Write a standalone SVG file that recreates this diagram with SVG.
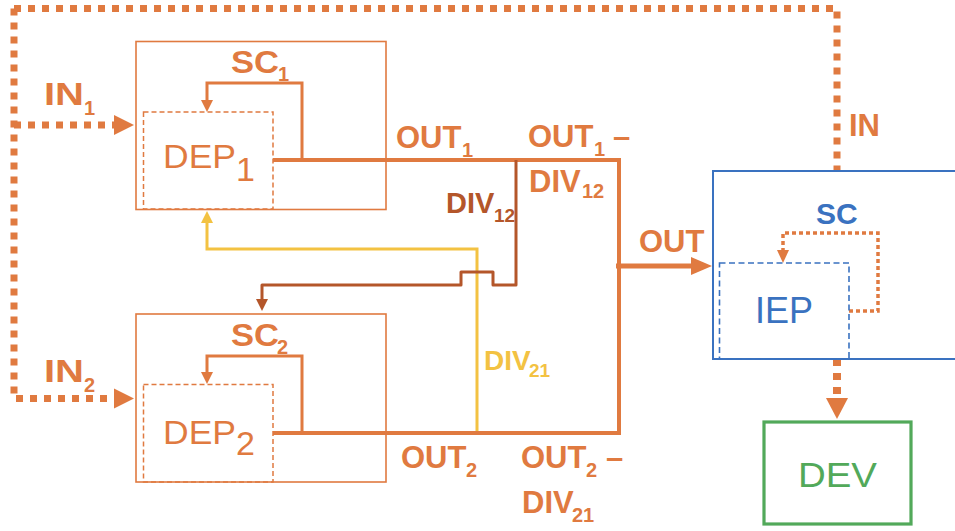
<svg xmlns="http://www.w3.org/2000/svg" width="955" height="531" viewBox="0 0 955 531">
<style>
text{font-family:"Liberation Sans",Arial,Helvetica,sans-serif}
.b{font-weight:bold;font-size:31px;fill:#E07A40}
.s{font-weight:bold;font-size:20px;fill:#E07A40}
.reg{font-size:34px;fill:#E07A40}
.box{fill:none;stroke:#E07A40;stroke-width:1.6}
.dbox{fill:none;stroke:#E07A40;stroke-width:1.5;stroke-dasharray:5 3}
.or{fill:none;stroke:#E07A40}
.dot{fill:none;stroke:#E07A40;stroke-width:7;stroke-dasharray:7 7}
.ah{fill:#E07A40}
</style>
<rect width="955" height="531" fill="#fff"/>
<g id="connectors">
  <path class="dot" d="M14,8.5 H837 V171"/>
  <path class="dot" d="M14,8.5 V398.5 H114"/>
  <path class="dot" d="M14,125 H114"/>
  <polygon class="ah" points="114,115 134,125 114,135"/>
  <polygon class="ah" points="114,388.5 134,398.5 114,408.5"/>
  <path class="dot" d="M837,359 V398" style="stroke-width:8"/>
  <polygon class="ah" points="826,398 848,398 837,419"/>
  <path class="or" stroke-width="3" d="M302,160 V83 H207 V101"/>
  <polygon class="ah" points="201,100 213,100 207,112"/>
  <path class="or" stroke-width="3" d="M302,433 V356 H207 V374"/>
  <polygon class="ah" points="201,372 213,372 207,384"/>
  <path fill="none" stroke="#F3C242" stroke-width="3" d="M477,433 V249 H207 V222"/>
  <polygon fill="#F3C242" points="201,223 213,223 207,211"/>
  <path class="or" stroke-width="4" d="M273,160 H619 V433 H273"/>
  <path fill="none" stroke="#B4562A" stroke-width="3" stroke-linejoin="round" d="M516,160 V285 H493 V272 H461 V285 H262 V300"/>
  <polygon fill="#B4562A" points="256,299 268,299 262,311"/>
  <path class="or" stroke-width="5" d="M616,266 H692"/>
  <polygon class="ah" points="691,257 712,266 691,275"/>
  <path fill="none" stroke="#E07A40" stroke-width="3.5" stroke-dasharray="4 3" d="M849,311 H878 V233 H783 V251"/>
  <polygon class="ah" points="777,250 789,250 783,263"/>
</g>
<g id="dep1">
  <rect class="box" x="136" y="41.5" width="250" height="168"/>
  <rect class="dbox" x="143.5" y="112" width="129.5" height="97"/>
  <text class="reg" x="163" y="168" textLength="73" lengthAdjust="spacingAndGlyphs">DEP</text>
  <text class="reg" x="236" y="181" font-size="28">1</text>
</g>
<g id="dep2">
  <rect class="box" x="136" y="314" width="250" height="168"/>
  <rect class="dbox" x="143.5" y="384.5" width="129.5" height="97.5"/>
  <text class="reg" x="163" y="444" textLength="73" lengthAdjust="spacingAndGlyphs">DEP</text>
  <text class="reg" x="236" y="455" font-size="28">2</text>
</g>
<g id="iep">
  <rect x="713" y="171" width="260" height="188" fill="none" stroke="#3A72C0" stroke-width="2"/>
  <rect x="719.5" y="263" width="129.5" height="96" fill="none" stroke="#3A72C0" stroke-width="1.6" stroke-dasharray="6 3.5"/>
  <text x="755" y="323" font-size="36" fill="#3A72C0">IEP</text>
</g>
<g id="dev">
  <rect x="764" y="422" width="147" height="102" fill="none" stroke="#52A95A" stroke-width="3.2"/>
  <text x="798" y="487" font-size="35" fill="#52A95A" textLength="79" lengthAdjust="spacingAndGlyphs">DEV</text>
</g>
<g id="labels">
  <text class="b" x="44" y="105" textLength="40" lengthAdjust="spacingAndGlyphs">IN</text>
  <text class="s" x="84" y="115">1</text>
  <text class="b" x="44" y="382" textLength="40" lengthAdjust="spacingAndGlyphs">IN</text>
  <text class="s" x="84" y="392">2</text>
  <text class="b" x="231" y="73" textLength="48" lengthAdjust="spacingAndGlyphs">SC</text>
  <text class="s" x="278" y="81">1</text>
  <text class="b" x="231" y="346" textLength="48" lengthAdjust="spacingAndGlyphs">SC</text>
  <text class="s" x="277" y="354">2</text>
  <text class="b" x="396" y="148">OUT</text>
  <text class="s" x="462" y="157">1</text>
  <text class="b" x="528" y="147">OUT</text>
  <text class="s" x="594" y="156">1</text>
  <text class="b" x="613" y="147">–</text>
  <text class="b" x="529" y="192">DIV</text>
  <text class="s" x="582" y="198">12</text>
  <text class="b" x="446" y="213" style="fill:#B4562A;font-size:29px">DIV</text>
  <text class="s" x="494" y="222" style="fill:#B4562A;font-size:19px">12</text>
  <text class="b" x="484" y="370" style="fill:#F3C242;font-size:28px">DIV</text>
  <text class="s" x="529" y="377" style="fill:#F3C242;font-size:19px">21</text>
  <text class="b" x="401" y="468">OUT</text>
  <text class="s" x="466" y="477">2</text>
  <text class="b" x="521" y="468">OUT</text>
  <text class="s" x="586" y="477">2</text>
  <text class="b" x="606" y="468">–</text>
  <text class="b" x="522" y="513">DIV</text>
  <text class="s" x="572" y="522">21</text>
  <text class="b" x="639" y="252">OUT</text>
  <text class="b" x="849" y="136">IN</text>
  <text class="b" x="816" y="224" style="fill:#3A72C0;font-size:30px">SC</text>
</g>
</svg>
